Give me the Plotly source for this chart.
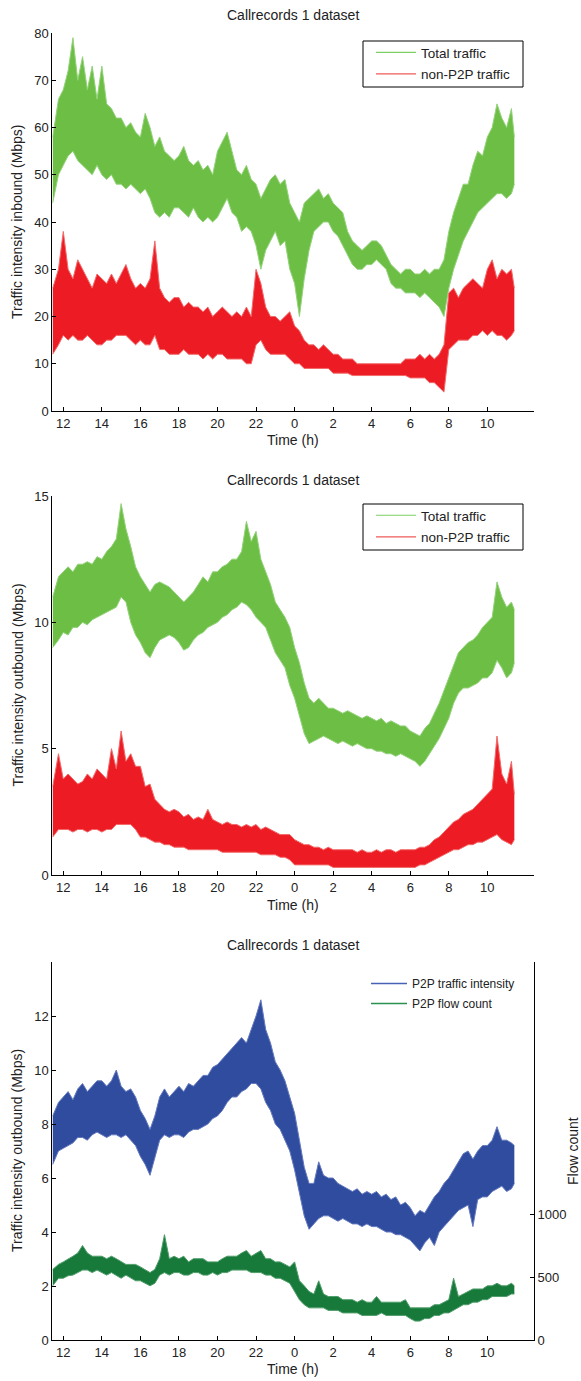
import plotly.graph_objects as go

# ---------------- data ----------------
# time in hours since midnight of day 1 (24 = 0 h next day)
hours = [11.45, 11.75,
         12.0, 12.25, 12.5, 12.75, 13.0, 13.25, 13.5, 13.75,
         14.0, 14.25, 14.5, 14.75, 15.0, 15.25, 15.5, 15.75,
         16.0, 16.25, 16.5, 16.75, 17.0, 17.25, 17.5, 17.75,
         18.0, 18.25, 18.5, 18.75, 19.0, 19.25, 19.5, 19.75,
         20.0, 20.25, 20.5, 20.75, 21.0, 21.25, 21.5, 21.75,
         22.0, 22.25, 22.5, 22.75, 23.0, 23.25, 23.5, 23.75,
         24.0, 24.25, 24.5, 24.75, 25.0, 25.25, 25.5, 25.75,
         26.0, 26.25, 26.5, 26.75, 27.0, 27.25, 27.5, 27.75,
         28.0, 28.25, 28.5, 28.75, 29.0, 29.25, 29.5, 29.75,
         30.0, 30.25, 30.5, 30.75, 31.0, 31.25, 31.5, 31.75,
         32.0, 32.25, 32.5, 32.75, 33.0, 33.25, 33.5, 33.75,
         34.0, 34.25, 34.5, 34.75, 35.0, 35.25, 35.4]

tick_vals = [12, 14, 16, 18, 20, 22, 24, 26, 28, 30, 32, 34]
tick_text = ["12", "14", "16", "18", "20", "22", "0", "2", "4", "6", "8", "10"]

# Panel 1: inbound traffic (Mbps) - band low / high
total_in_lo = [44, 50,
               52, 54, 55, 53, 52, 51, 50, 52,
               50, 49, 50, 48, 48, 47, 48, 47,
               46, 47, 45, 42, 41, 42, 41, 43,
               43, 42, 41, 43, 41, 40, 41, 40,
               41, 43, 45, 42, 41, 38, 39, 38,
               35, 30, 34, 36, 38, 35, 36, 30,
               27, 20, 28, 34, 38, 39, 40, 40,
               38, 37, 35, 33, 31, 30, 30, 31,
               31, 32, 31, 30, 27, 26, 26, 25,
               25, 25, 24, 25, 24, 23, 22, 20,
               26, 30, 33, 36, 38, 40, 42, 43,
               44, 45, 46, 46, 45, 46, 48]
total_in_hi = [58, 66,
               68, 72, 79, 70, 75, 68, 73, 66,
               73, 65, 64, 62, 62, 60, 61, 59,
               58, 63, 60, 56, 58, 55, 54, 53,
               54, 56, 53, 52, 53, 51, 52, 50,
               55, 57, 59, 55, 51, 50, 52, 49,
               48, 45, 47, 49, 50, 48, 49, 44,
               42, 40, 44, 45, 46, 47, 45, 46,
               44, 43, 42, 38, 36, 35, 34, 35,
               36, 36, 35, 33, 31, 30, 29, 30,
               30, 29, 29, 30, 29, 30, 30, 32,
               38, 42, 45, 48, 48, 52, 55, 54,
               58, 60, 65, 62, 60, 64, 58]
nonp2p_in_lo = [12, 14,
                16, 15, 16, 15, 15, 16, 15, 14,
                14, 15, 15, 16, 16, 16, 15, 14,
                15, 14, 14, 16, 13, 13, 12, 12,
                12, 13, 12, 12, 12, 11, 12, 11,
                12, 12, 11, 11, 11, 11, 10, 10,
                14, 15, 13, 12, 12, 12, 12, 11,
                10, 10, 9, 9, 9, 9, 9, 9,
                8, 8, 8, 8, 7.5, 7.5, 7.5, 7.5,
                7.5, 7.5, 7.5, 7.5, 7.5, 7.5, 7.5, 7.5,
                7, 7, 7, 7, 6, 6, 5, 4,
                13, 14, 15, 15, 15, 16, 16, 17,
                16, 17, 16, 16, 15, 16, 17]
nonp2p_in_hi = [26, 30,
                38, 30, 28, 32, 30, 28, 26, 29,
                28, 27, 29, 27, 29, 31, 28, 26,
                27, 26, 28, 36, 26, 24, 23, 24,
                24, 22, 23, 22, 22, 21, 22, 20,
                21, 22, 21, 20, 21, 20, 22, 20,
                30, 27, 22, 20, 20, 19, 20, 21,
                18, 17, 15, 14, 14, 13, 14, 13,
                12, 12, 11, 11, 11, 10, 10, 10,
                10, 10, 10, 10, 10, 10, 10, 11,
                11, 11, 12, 11, 12, 11, 12, 14,
                25, 26, 24, 26, 27, 28, 27, 26,
                30, 32, 28, 30, 29, 30, 26]

# Panel 2: outbound traffic (Mbps)
total_out_lo = [9.0, 9.3,
                9.6, 9.5, 9.8, 9.8, 10.0, 9.9, 10.1, 10.2,
                10.3, 10.4, 10.5, 10.6, 11.0, 10.8, 10.0, 9.5,
                9.2, 8.8, 8.6, 9.0, 9.3, 9.4, 9.5, 9.4,
                9.2, 8.9, 9.0, 9.3, 9.5, 9.6, 9.8, 9.9,
                10.0, 10.2, 10.3, 10.5, 10.6, 10.8, 10.7, 10.5,
                10.2, 10.0, 9.8, 9.3, 8.8, 8.5, 8.2, 7.5,
                7.0, 6.3, 5.6, 5.2, 5.3, 5.4, 5.5, 5.4,
                5.3, 5.2, 5.3, 5.2, 5.1, 5.2, 5.1, 5.0,
                5.0, 4.9, 4.9, 4.8, 4.8, 4.7, 4.8, 4.7,
                4.6, 4.5, 4.3, 4.5, 4.8, 5.1, 5.4, 5.8,
                6.2, 6.8, 7.2, 7.4, 7.4, 7.5, 7.6, 7.8,
                7.8, 8.0, 8.5, 8.2, 7.8, 8.0, 8.4]
total_out_hi = [11.0, 11.8,
                12.0, 12.2, 12.0, 12.3, 12.3, 12.4, 12.3, 12.6,
                12.5, 12.8, 13.0, 13.3, 14.7, 13.7, 13.0, 12.2,
                11.8, 11.5, 11.2, 11.5, 11.6, 11.5, 11.4, 11.2,
                11.0, 10.8, 11.0, 11.2, 11.5, 11.8, 11.6, 12.0,
                12.0, 12.2, 12.3, 12.5, 12.5, 12.8, 14.0, 13.2,
                13.6, 12.5, 12.0, 11.5, 10.8, 10.5, 10.2, 9.8,
                9.0, 8.4, 7.6, 7.0, 6.8, 7.0, 6.8, 6.6,
                6.6, 6.5, 6.4, 6.5, 6.4, 6.3, 6.2, 6.3,
                6.2, 6.1, 6.2, 6.0, 6.1, 6.0, 5.9, 5.9,
                5.7, 5.6, 5.5, 5.8, 6.0, 6.4, 6.8, 7.3,
                7.8, 8.3, 8.8, 9.0, 9.2, 9.3, 9.5, 9.8,
                10.0, 10.2, 11.6, 11.0, 10.6, 10.8, 10.5]
nonp2p_out_lo = [1.5, 1.8,
                 1.8, 1.8, 1.7, 1.8, 1.8, 1.7, 1.8, 1.8,
                 1.7, 1.8, 1.8, 2.0, 2.0, 2.0, 2.0, 1.8,
                 1.5, 1.5, 1.4, 1.3, 1.3, 1.2, 1.2, 1.1,
                 1.1, 1.1, 1.0, 1.0, 1.0, 1.0, 1.0, 1.0,
                 1.0, 0.9, 0.9, 0.9, 0.9, 0.9, 0.9, 0.9,
                 0.9, 0.8, 0.8, 0.8, 0.8, 0.7, 0.7, 0.6,
                 0.4, 0.4, 0.4, 0.4, 0.4, 0.4, 0.4, 0.4,
                 0.3, 0.3, 0.3, 0.3, 0.3, 0.3, 0.3, 0.3,
                 0.3, 0.3, 0.3, 0.3, 0.3, 0.3, 0.3, 0.3,
                 0.3, 0.3, 0.4, 0.4, 0.5, 0.6, 0.7, 0.8,
                 0.9, 1.0, 1.0, 1.1, 1.2, 1.2, 1.3, 1.3,
                 1.4, 1.5, 1.6, 1.4, 1.3, 1.2, 1.4]
nonp2p_out_hi = [3.5, 4.8,
                 3.8, 4.0, 3.8, 3.6, 3.7, 4.0, 3.8, 4.2,
                 4.0, 3.8, 5.0, 4.2, 5.7, 4.5, 4.8, 4.3,
                 4.3, 3.5, 3.6, 3.0, 2.8, 2.6, 2.5, 2.6,
                 2.5, 2.3, 2.4, 2.2, 2.3, 2.2, 2.6, 2.2,
                 2.1, 2.0, 2.1, 2.0, 2.0, 1.9, 2.0, 1.9,
                 2.0, 1.8, 1.9, 1.8, 1.7, 1.6, 1.6, 1.6,
                 1.4, 1.3, 1.2, 1.2, 1.1, 1.1, 1.0, 1.1,
                 1.0, 1.0, 1.0, 1.0, 1.0, 0.9, 1.0, 0.9,
                 0.9, 1.0, 0.9, 1.0, 1.0, 0.9, 1.0, 1.0,
                 1.0, 1.0, 1.1, 1.1, 1.2, 1.4, 1.5, 1.7,
                 1.9, 2.1, 2.2, 2.4, 2.5, 2.6, 2.8, 3.0,
                 3.2, 3.4, 5.5, 4.0, 3.6, 4.5, 3.2]

# Panel 3: P2P traffic intensity (Mbps) and P2P flow count
p2p_int_lo = [6.5, 7.0,
              7.1, 7.2, 7.3, 7.5, 7.5, 7.4, 7.6, 7.7,
              7.6, 7.5, 7.6, 7.6, 7.5, 7.6, 7.4, 7.2,
              6.8, 6.5, 6.1, 6.8, 7.4, 7.6, 7.5, 7.6,
              7.6, 7.5, 7.7, 7.8, 7.8, 7.9, 8.0, 8.2,
              8.3, 8.5, 8.8, 9.0, 9.0, 9.2, 9.3, 9.5,
              9.5, 9.3, 8.8, 8.5, 8.0, 7.8, 7.4, 7.0,
              6.3, 5.4, 4.6, 4.1, 4.3, 4.5, 4.6, 4.6,
              4.5, 4.4, 4.5, 4.4, 4.3, 4.3, 4.2, 4.3,
              4.2, 4.2, 4.1, 4.0, 4.0, 3.9, 3.9, 3.8,
              3.7, 3.5, 3.3, 3.6, 3.8, 3.5, 4.0, 4.2,
              4.4, 4.6, 4.8, 4.9, 5.0, 4.2, 5.2, 5.3,
              5.3, 5.5, 5.6, 5.7, 5.5, 5.6, 5.8]
p2p_int_hi = [8.3, 8.8,
              9.0, 9.2, 8.9, 9.3, 9.5, 9.2, 9.4, 9.6,
              9.6, 9.4, 9.6, 10.0, 9.4, 9.2, 9.3, 9.0,
              8.5, 8.2, 7.8, 8.3, 9.0, 9.3, 9.0, 9.2,
              9.4, 9.2, 9.5, 9.4, 9.6, 9.8, 9.8, 10.1,
              10.2, 10.4, 10.6, 10.8, 11.0, 11.2, 11.0, 11.5,
              12.0, 12.6, 11.5, 11.0, 10.3, 10.0, 9.6, 9.0,
              8.4, 7.4, 6.4, 5.8, 5.8, 6.6, 6.1, 6.0,
              6.0, 5.8, 5.7, 5.6, 5.5, 5.6, 5.4, 5.5,
              5.4, 5.5, 5.3, 5.4, 5.2, 5.3, 5.0, 5.1,
              4.9, 4.6, 4.8, 4.7, 5.0, 5.3, 5.5, 5.8,
              6.0, 6.3, 6.6, 6.9, 7.0, 6.7, 7.0, 7.2,
              7.2, 7.4, 7.9, 7.4, 7.4, 7.3, 7.2]
p2p_flow_lo = [430, 490,
               490, 510, 515, 535, 555, 555, 535, 555,
               535, 515, 535, 515, 490, 515, 490, 470,
               470, 450, 430, 450, 515, 535, 515, 535,
               535, 515, 515, 535, 535, 515, 515, 535,
               515, 535, 535, 555, 555, 555, 555, 535,
               535, 535, 515, 515, 490, 490, 470, 450,
               385, 320, 280, 255, 255, 255, 255, 235,
               235, 235, 215, 215, 215, 215, 195, 195,
               195, 195, 215, 195, 195, 195, 195, 195,
               170, 150, 150, 170, 170, 195, 195, 215,
               215, 235, 255, 280, 280, 300, 300, 320,
               320, 345, 345, 345, 345, 365, 365]
p2p_flow_hi = [560, 600,
               620, 640, 665, 690, 750, 690, 665, 665,
               665, 645, 665, 645, 620, 600, 600, 600,
               580, 555, 535, 560, 645, 836, 645, 665,
               645, 665, 620, 645, 645, 645, 620, 620,
               620, 645, 665, 665, 665, 690, 710, 665,
               690, 710, 645, 645, 620, 620, 600, 580,
               620, 470, 430, 385, 365, 470, 365, 345,
               345, 345, 320, 320, 320, 300, 320, 300,
               300, 345, 300, 300, 300, 300, 300, 320,
               255, 255, 255, 255, 255, 280, 280, 300,
               320, 490, 345, 365, 385, 405, 405, 405,
               430, 430, 450, 430, 430, 450, 430]

# ---------------- styling ----------------
W, H = 581, 1381
FONT = "Liberation Sans, Arial, Helvetica, sans-serif"
TXT = "#222222"
GREEN = "#6dbe45"
GREEN_EDGE = "#93d27a"
RED = "#ed1c24"
RED_EDGE = "#f26a6a"
BLUE = "#2f4c9f"
BLUE_EDGE = "#6479bd"
DGREEN = "#177a3b"
DGREEN_EDGE = "#4f9d69"


def px_x(p):
    return p / W


def px_y(p):
    return 1 - p / H


fig = go.Figure()


def add_band(x, lo, hi, color, edge, xa, ya):
    fig.add_trace(go.Scatter(x=x, y=lo, mode="lines", line=dict(color=edge, width=1),
                             xaxis=xa, yaxis=ya, showlegend=False, hoverinfo="skip"))
    fig.add_trace(go.Scatter(x=x, y=hi, mode="lines", line=dict(color=edge, width=1),
                             fill="tonexty", fillcolor=color,
                             xaxis=xa, yaxis=ya, showlegend=False, hoverinfo="skip"))


def add_legend_entry(name, color, legend, xa, ya, group, width=1.2):
    fig.add_trace(go.Scatter(x=[None], y=[None], mode="lines", name=name,
                             line=dict(color=color, width=width), legend=legend,
                             legendgroup=group, xaxis=xa, yaxis=ya))


# Panel 1
add_band(hours, total_in_lo, total_in_hi, GREEN, GREEN_EDGE, "x", "y")
add_band(hours, nonp2p_in_lo, nonp2p_in_hi, RED, RED_EDGE, "x", "y")
add_legend_entry("Total traffic", "#7ccf62", "legend", "x", "y", "a1")
add_legend_entry("non-P2P traffic", "#f05a5a", "legend", "x", "y", "b1")

# Panel 2
add_band(hours, total_out_lo, total_out_hi, GREEN, GREEN_EDGE, "x2", "y2")
add_band(hours, nonp2p_out_lo, nonp2p_out_hi, RED, RED_EDGE, "x2", "y2")
add_legend_entry("Total traffic", "#7ccf62", "legend2", "x2", "y2", "a2")
add_legend_entry("non-P2P traffic", "#f05a5a", "legend2", "x2", "y2", "b2")

# Panel 3
add_band(hours, p2p_int_lo, p2p_int_hi, BLUE, BLUE_EDGE, "x3", "y3")
add_band(hours, p2p_flow_lo, p2p_flow_hi, DGREEN, DGREEN_EDGE, "x3", "y4")
add_legend_entry("P2P traffic intensity", "#4762b5", "legend3", "x3", "y3", "a3", 1.6)
add_legend_entry("P2P flow count", "#2a9150", "legend3", "x3", "y3", "b3", 1.6)

x_dom = [px_x(52.3), px_x(534)]
x_rng = [11.43, 36.42]

axis_common = dict(showline=True, linecolor="black", linewidth=1, ticks="inside",
                   ticklen=4, tickcolor="black", showgrid=False, zeroline=False,
                   automargin=False,
                   tickfont=dict(family=FONT, size=13, color=TXT))

xa = dict(axis_common, domain=x_dom, range=x_rng, tickvals=tick_vals, ticktext=tick_text)

legend_common = dict(font=dict(family=FONT, size=13.5, color=TXT), bgcolor="rgba(0,0,0,0)",
                     xanchor="left", yanchor="top", tracegroupgap=1, borderwidth=0,
                     itemwidth=40, xref="paper", yref="paper")

fig.update_layout(
    width=W, height=H, margin=dict(l=0, r=0, t=0, b=0, autoexpand=False),
    paper_bgcolor="white", plot_bgcolor="white",
    font=dict(family=FONT, color=TXT, size=13),
    xaxis=dict(xa, anchor="y"),
    yaxis=dict(axis_common, domain=[px_y(411), px_y(33)], range=[0, 80],
               tickvals=[0, 10, 20, 30, 40, 50, 60, 70, 80], anchor="x"),
    xaxis2=dict(xa, anchor="y2"),
    yaxis2=dict(axis_common, domain=[px_y(875), px_y(496)], range=[0, 15],
                tickvals=[0, 5, 10, 15], anchor="x2"),
    xaxis3=dict(xa, anchor="y3"),
    yaxis3=dict(axis_common, domain=[px_y(1340), px_y(962)], range=[0, 14],
                tickvals=[0, 2, 4, 6, 8, 10, 12], anchor="x3"),
    yaxis4=dict(axis_common, domain=[px_y(1340), px_y(962)], range=[0, 3000],
                tickvals=[0, 500, 1000], overlaying="y3", side="right", anchor="x3"),
    legend=dict(legend_common, x=px_x(371), y=px_y(37)),
    legend2=dict(legend_common, x=px_x(371), y=px_y(500)),
    legend3=dict(legend_common, x=px_x(366), y=px_y(969), itemwidth=36,
                 font=dict(family=FONT, size=12, color=TXT)),
    showlegend=True,
)

# legend frames (panels 1 and 2)
shapes = []
for y0, y1 in [(41, 87), (504, 550)]:
    shapes.append(dict(type="rect", xref="paper", yref="paper",
                       x0=px_x(363), x1=px_x(523), y0=px_y(y1), y1=px_y(y0),
                       line=dict(color="black", width=1), fillcolor="white", layer="above"))
fig.update_layout(shapes=shapes)

annotations = []
for yc in [15, 480, 945]:
    annotations.append(dict(text="Callrecords 1 dataset", x=px_x(293), y=px_y(yc),
                            xref="paper", yref="paper", showarrow=False,
                            font=dict(family=FONT, size=14, color=TXT),
                            xanchor="center", yanchor="middle"))
for yc in [440, 905, 1369]:
    annotations.append(dict(text="Time (h)", x=px_x(293), y=px_y(yc),
                            xref="paper", yref="paper", showarrow=False,
                            font=dict(family=FONT, size=14, color=TXT),
                            xanchor="center", yanchor="middle"))
for text, yc in [("Traffic intensity inbound (Mbps)", 222),
                 ("Traffic intensity outbound (Mbps)", 685.5),
                 ("Traffic intensity outbound (Mbps)", 1151)]:
    annotations.append(dict(text=text, x=px_x(17), y=px_y(yc), textangle=-90,
                            xref="paper", yref="paper", showarrow=False,
                            font=dict(family=FONT, size=14, color=TXT),
                            xanchor="center", yanchor="middle"))
annotations.append(dict(text="Flow count", x=px_x(573), y=px_y(1151), textangle=-90,
                        xref="paper", yref="paper", showarrow=False,
                        font=dict(family=FONT, size=14, color=TXT),
                        xanchor="center", yanchor="middle"))
fig.update_layout(annotations=annotations)

fig.write_html("out.html", config={"displayModeBar": False},
               post_script="document.body.style.margin='0';document.body.style.padding='0';")
